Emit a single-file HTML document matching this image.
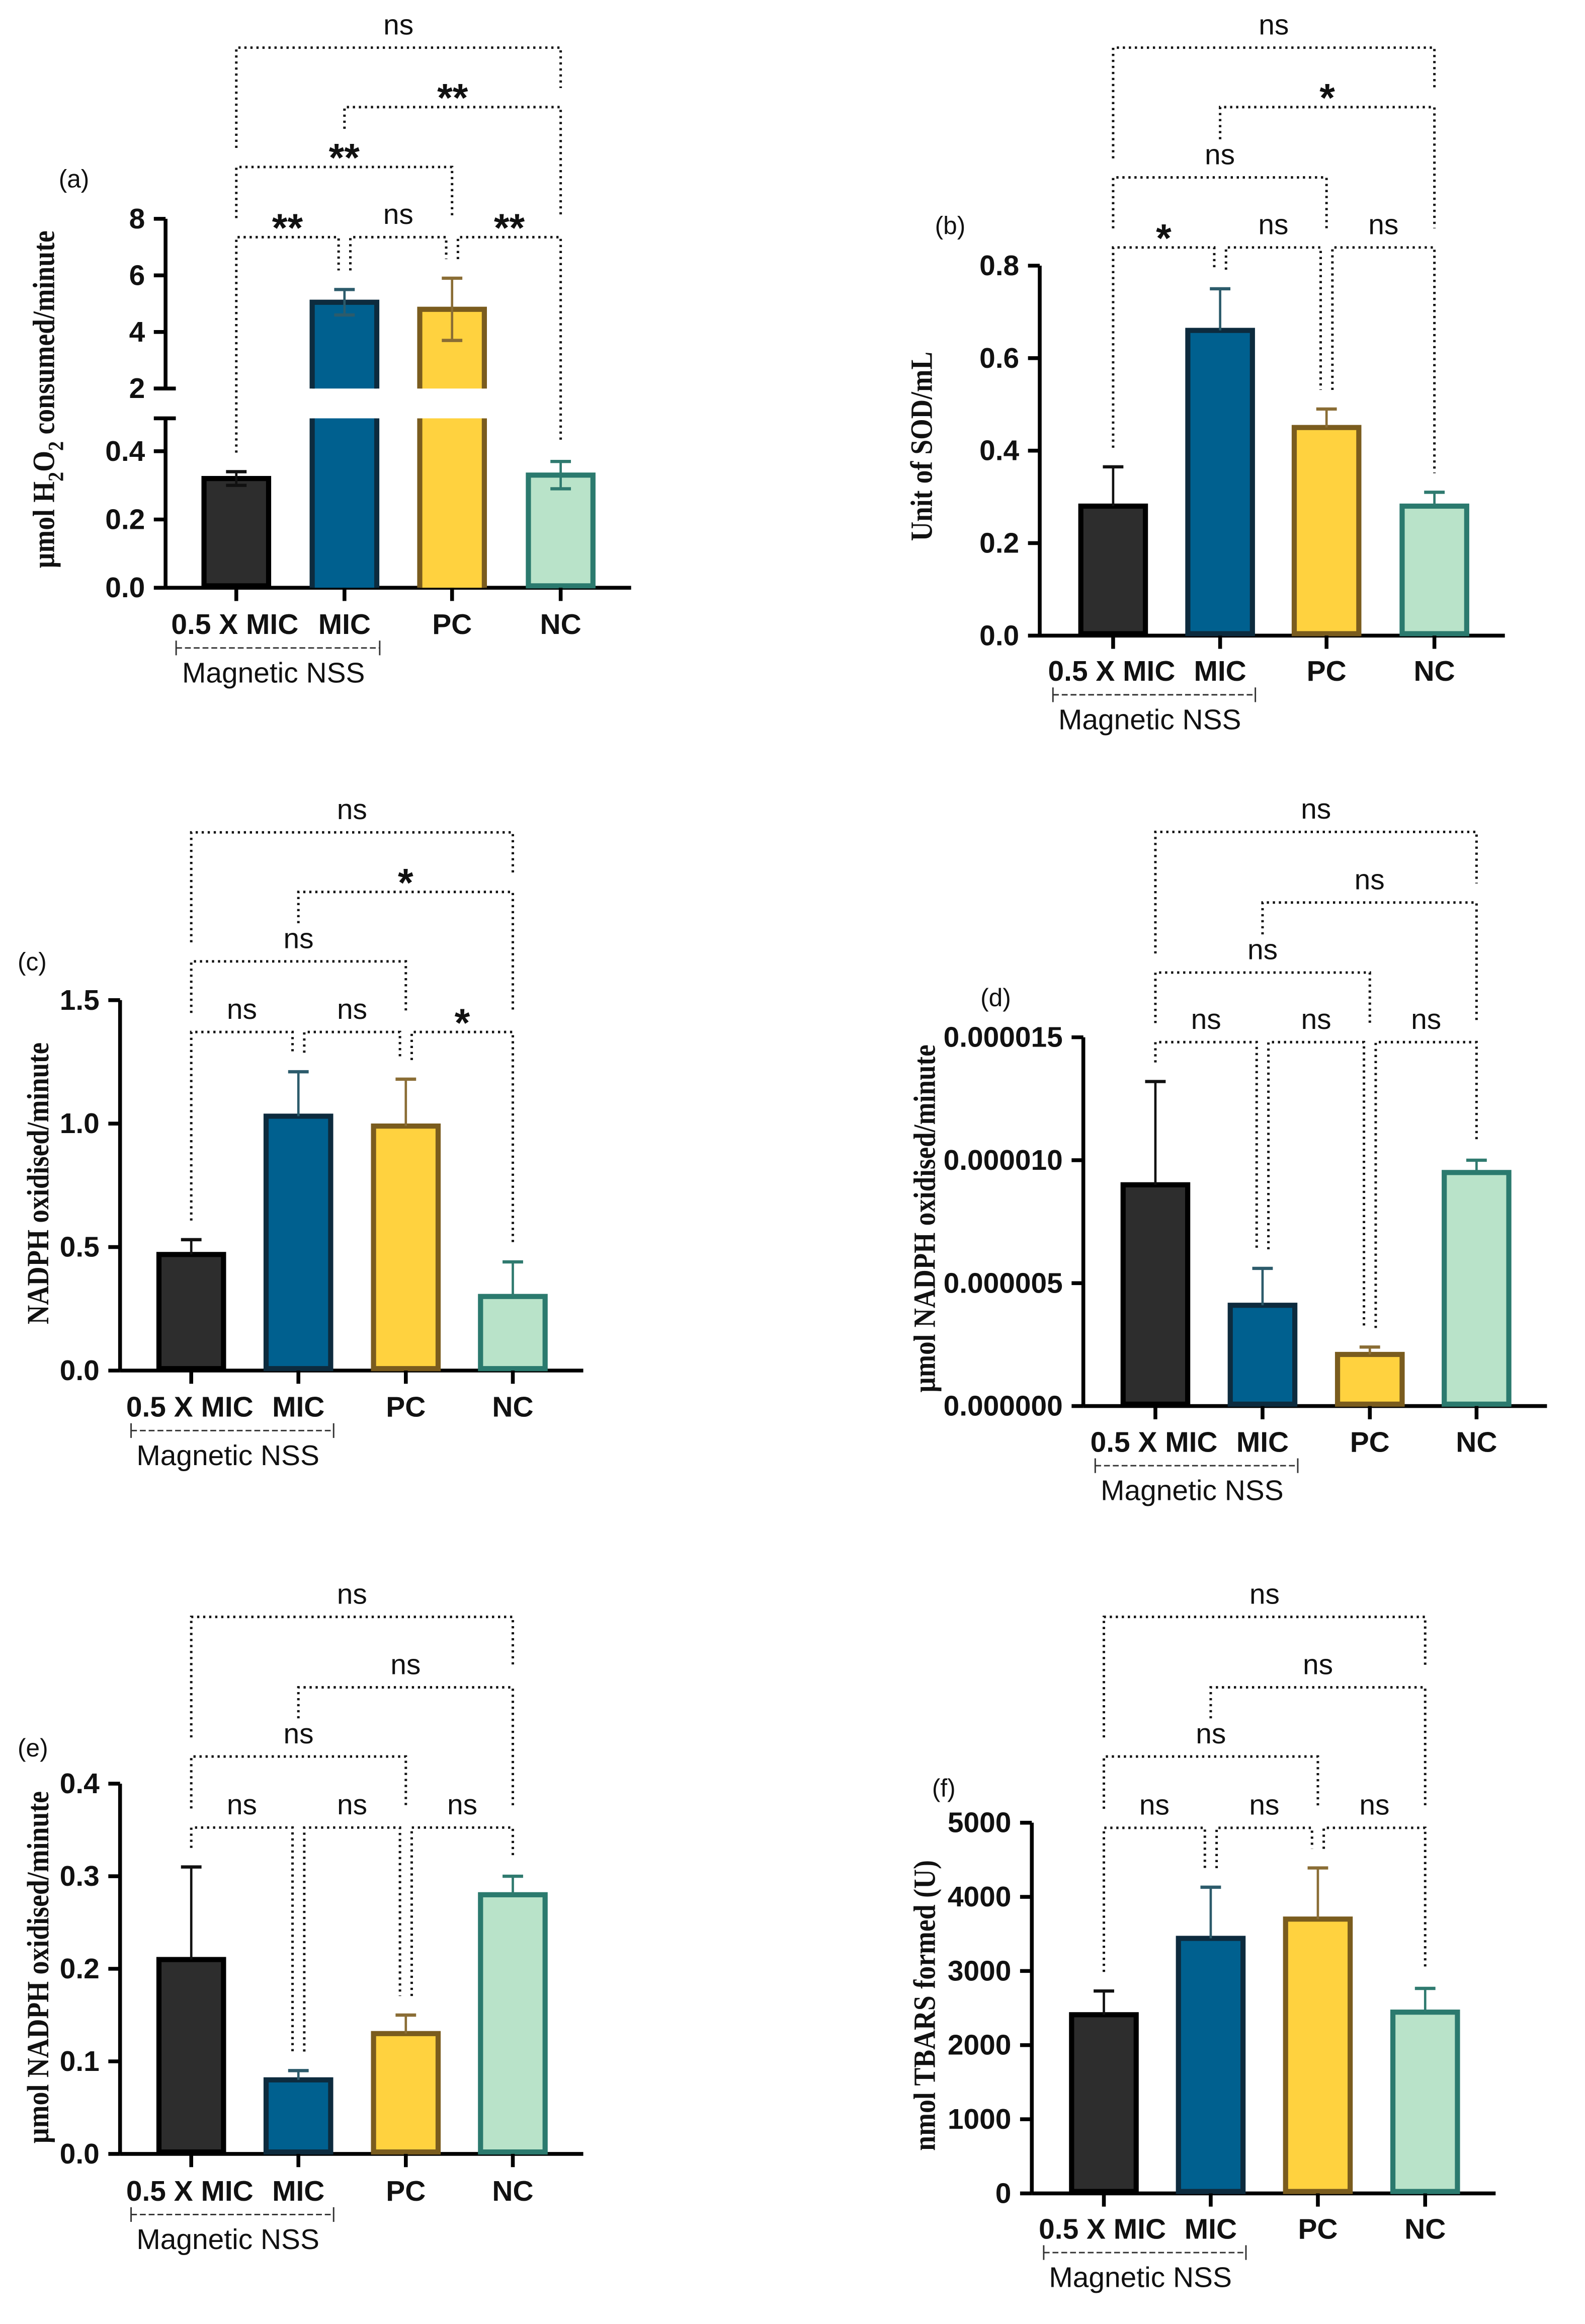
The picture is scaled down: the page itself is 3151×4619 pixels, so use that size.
<!DOCTYPE html>
<html><head><meta charset="utf-8"><title>Antioxidant enzyme assays</title>
<style>
html,body{margin:0;padding:0;background:#fff;}
svg{display:block;}
.tick{font-family:"Liberation Sans",Arial,sans-serif;font-weight:bold;font-size:19.5px;fill:#111;}
.cat{font-family:"Liberation Sans",Arial,sans-serif;font-weight:bold;font-size:19.5px;fill:#111;}
.grp{font-family:"Liberation Sans",Arial,sans-serif;font-size:19.5px;fill:#111;}
.sig{font-family:"Liberation Sans",Arial,sans-serif;font-size:19.5px;fill:#111;}
.star{font-family:"Liberation Sans",Arial,sans-serif;font-weight:bold;font-size:27px;fill:#111;}
.plab{font-family:"Liberation Sans",Arial,sans-serif;font-size:17px;fill:#111;}
.ytitle{font-family:"Liberation Serif","Times New Roman",serif;font-weight:bold;font-size:21px;fill:#111;}
</style></head>
<body>
<svg id="fig" xmlns="http://www.w3.org/2000/svg" width="3151" height="4619" viewBox="0 0 1079.9 1582.9">
<rect x="0" y="0" width="1079.9" height="1582.9" fill="#fff"/>
</svg>
<script>
// ---------- DATA ----------
const categories = ['0.5 X MIC', 'MIC', 'PC', 'NC'];
const groupLabel = 'Magnetic NSS';

const valuesA = [0.32, 5.05, 4.8, 0.33];
const errorsA = [0.02, 0.45, 1.1, 0.04];
const ticksALow = [0.0, 0.2, 0.4];
const ticksAHigh = [2, 4, 6, 8];
const bracketsA = [[0,1,'**',1],[1,2,'ns',1],[2,3,'**',1],[0,2,'**',2],[1,3,'**',3],[0,3,'ns',4]];

const valuesB = [0.28, 0.66, 0.45, 0.28];
const errorsB = [0.085, 0.09, 0.04, 0.03];
const ticksB = [0.0, 0.2, 0.4, 0.6, 0.8];
const bracketsB = [[0,1,'*',1],[1,2,'ns',1],[2,3,'ns',1],[0,2,'ns',2],[1,3,'*',3],[0,3,'ns',4]];

const valuesC = [0.47, 1.03, 0.99, 0.30];
const errorsC = [0.06, 0.18, 0.19, 0.14];
const ticksC = [0.0, 0.5, 1.0, 1.5];
const bracketsC = [[0,1,'ns',1],[1,2,'ns',1],[2,3,'*',1],[0,2,'ns',2],[1,3,'*',3],[0,3,'ns',4]];

const valuesD = [0.0000090, 0.0000041, 0.0000021, 0.0000095];
const errorsD = [0.0000042, 0.0000015, 0.0000003, 0.0000005];
const ticksD = [0.0, 0.000005, 0.000010, 0.000015];
const bracketsD = [[0,1,'ns',1],[1,2,'ns',1],[2,3,'ns',1],[0,2,'ns',2],[1,3,'ns',3],[0,3,'ns',4]];

const valuesE = [0.21, 0.08, 0.13, 0.28];
const errorsE = [0.10, 0.01, 0.02, 0.02];
const ticksE = [0.0, 0.1, 0.2, 0.3, 0.4];
const bracketsE = [[0,1,'ns',1],[1,2,'ns',1],[2,3,'ns',1],[0,2,'ns',2],[1,3,'ns',3],[0,3,'ns',4]];

const valuesF = [2410, 3440, 3700, 2445];
const errorsF = [320, 690, 690, 320];
const ticksF = [0, 1000, 2000, 3000, 4000, 5000];
const bracketsF = [[0,1,'ns',1],[1,2,'ns',1],[2,3,'ns',1],[0,2,'ns',2],[1,3,'ns',3],[0,3,'ns',4]];

// ---------- STYLE ----------
const fills = ['#2d2d2d', '#00608f', '#ffd23f', '#b9e3c9'];
const strokes = ['#000000', '#0d2b3e', '#7a5c1e', '#2b7a6e'];
const errCols = ['#111111', '#2c5b6b', '#8a6d35', '#2f7a6f'];
const NS = 'http://www.w3.org/2000/svg';
const svg = document.getElementById('fig');

function mk(tag, attrs, parent) {
  const e = document.createElementNS(NS, tag);
  for (const k in attrs) e.setAttribute(k, attrs[k]);
  (parent || svg).appendChild(e);
  return e;
}

function linScale(y0, yTop, max) { return v => y0 - v / max * (y0 - yTop); }

function drawPanel(p, vals, errs, brackets) {
  const g = mk('g', {});
  
  
  const yOf = p.scale;
  const c = p.centers;
  const pl = mk('text', {x: p.lab[0], y: p.lab[1], class: 'plab', 'dominant-baseline': 'central'}, g);
  pl.textContent = '(' + p.id + ')';
  
  
  const yt = mk('text', {class: 'ytitle', 'text-anchor': 'middle', 'dominant-baseline': 'central',
    transform: 'translate(' + p.title[0] + ',' + p.title[1] + ') rotate(-90)',
    textLength: p.title[2], lengthAdjust: 'spacingAndGlyphs'}, g);
  
  
  if (p.titleParts) {
    p.titleParts.forEach(tp => {
      const ts = mk('tspan', tp.sub ? {'baseline-shift': 'sub', 'font-size': '15px'} : {}, yt);
      ts.textContent = tp.t;
    });
  } else yt.textContent = p.titleText;
  const ax = p.ax;
  const axis = mk('g', {stroke: '#000', 'stroke-width': 2.6, fill: 'none'}, g);
  
  
  if (p.broken) {
    mk('line', {x1: ax, y1: p.y0, x2: ax, y2: p.lowTop}, axis);
    mk('line', {x1: ax - 8, y1: p.lowTop, x2: ax + 7, y2: p.lowTop}, axis);
    mk('line', {x1: ax, y1: p.highBot, x2: ax, y2: p.yTop}, axis);
    mk('line', {x1: ax - 8, y1: p.highBot, x2: ax + 7, y2: p.highBot}, axis);
  } else {
    mk('line', {x1: ax, y1: p.y0, x2: ax, y2: p.yTop}, axis);
  }
  p.ticks.forEach(t => {
    const y = yOf(t);
    mk('line', {x1: ax - 8, y1: y, x2: ax, y2: y}, axis);
    const tx = mk('text', {x: ax - 14, y: y, class: 'tick', 'text-anchor': 'end', 'dominant-baseline': 'central'}, g);
    tx.textContent = p.fmt(t);
    
    
  });
  const xa = mk('line', {x1: ax, y1: p.y0, x2: c[3] + 48, y2: p.y0, stroke: '#000', 'stroke-width': 2.6}, g);
  
  
  vals.forEach((v, i) => {
    const bw = 44, x = c[i] - bw / 2;
    const bg = mk('g', {}, g);
    
    
    const top = yOf(v);
    if (p.broken && v > p.breakLow) {
      mk('rect', {x: x, y: p.lowTop, width: bw, height: p.y0 - p.lowTop, fill: fills[i]}, bg);
      mk('path', {d: 'M' + x + ' ' + p.y0 + ' V' + p.lowTop + ' M' + (x + bw) + ' ' + p.y0 + ' V' + p.lowTop, stroke: strokes[i], 'stroke-width': 3.5, fill: 'none'}, bg);
      mk('rect', {x: x, y: top, width: bw, height: p.highBot - top, fill: fills[i]}, bg);
      mk('path', {d: 'M' + x + ' ' + p.highBot + ' V' + top + ' H' + (x + bw) + ' V' + p.highBot, stroke: strokes[i], 'stroke-width': 3.5, fill: 'none'}, bg);
    } else {
      mk('rect', {x: x, y: top, width: bw, height: p.y0 - top - 1.3, fill: fills[i], stroke: strokes[i], 'stroke-width': 3.5}, bg);
    }
    const eTop = yOf(v + errs[i]);
    const eg = mk('g', {stroke: errCols[i], 'stroke-width': 1.6}, g);
    
    
    const eBot = p.bothErr ? yOf(v - errs[i]) : top;
    mk('line', {x1: c[i], y1: eTop, x2: c[i], y2: eBot}, eg);
    mk('line', {x1: c[i] - 7, y1: eTop, x2: c[i] + 7, y2: eTop, 'stroke-width': 2.2}, eg);
    if (p.bothErr) mk('line', {x1: c[i] - 7, y1: eBot, x2: c[i] + 7, y2: eBot, 'stroke-width': 2.2}, eg);
    mk('line', {x1: c[i], y1: p.y0, x2: c[i], y2: p.y0 + 9, stroke: '#000', 'stroke-width': 2.6}, g);
    const cl = mk('text', {x: c[i] + (i === 0 ? -1 : 0), y: p.labY, class: 'cat', 'text-anchor': 'middle', 'dominant-baseline': 'central'}, g);
    cl.textContent = categories[i];
    
    
  });
  const gx1 = c[0] - 41, gx2 = c[1] + 24, gy = p.labY + 16;
  const gb = mk('g', {stroke: '#333', 'stroke-width': 1}, g);
  
  
  mk('line', {x1: gx1, y1: gy, x2: gx2, y2: gy, 'stroke-dasharray': '4 2'}, gb);
  mk('line', {x1: gx1, y1: gy - 5, x2: gx1, y2: gy + 5}, gb);
  mk('line', {x1: gx2, y1: gy - 5, x2: gx2, y2: gy + 5}, gb);
  const gt = mk('text', {x: (gx1 + gx2) / 2 - 3, y: gy + 17, class: 'grp', 'text-anchor': 'middle', 'dominant-baseline': 'central'}, g);
  gt.textContent = groupLabel;
  
  
  brackets.forEach(b => {
    const [i, j, lab, lev] = b;
    const y = p.levels[lev - 1];
    const sameL = brackets.some(o => o !== b && o[3] === lev && o[1] === i);
    const sameR = brackets.some(o => o !== b && o[3] === lev && o[0] === j);
    const xi = c[i] + (sameL ? 4 : 0), xj = c[j] - (sameR ? 4 : 0);
    function endFor(k) {
      let obs = null;
      brackets.forEach(o => {
        if (o[3] < lev && o[0] <= k && k <= o[1]) {
          let oy = p.levels[o[3] - 1];
          const mid = (c[o[0]] + c[o[1]]) / 2;
          if (Math.abs(mid - c[k]) < 15) oy -= 13;
          if (obs === null || oy < obs) obs = oy;
        }
      });
      if (obs === null) obs = yOf(vals[k] + errs[k]);
      return obs - 13;
    }
    const bg = mk('g', {}, g);
    
    
    mk('path', {d: 'M' + xi + ' ' + endFor(i) + ' V' + y + ' H' + xj + ' V' + endFor(j), fill: 'none', stroke: '#111', 'stroke-width': 1.7, 'stroke-dasharray': '1.5 2.6'}, bg);
    const isStar = lab.indexOf('*') >= 0;
    const t = mk('text', {x: (xi + xj) / 2, y: isStar ? y + 3 : y - 9, class: isStar ? 'star' : 'sig', 'text-anchor': 'middle'}, bg);
    t.textContent = lab;
  });
}

const fmt1 = v => v.toFixed(1);
const colsL = [130.3, 203.3, 276.5, 349.4];

(function(){
  const y0 = 400.3, pxLow = 232.5, lowTop = 284.9, highBot = 264.6, pxHigh = 19.27;
  const scaleA = v => v <= 0.5 ? y0 - v * pxLow : highBot - (v - 2) * pxHigh;
  drawPanel({id: 'a', ax: 112.8, y0: y0, yTop: 149, scale: scaleA, broken: true, breakLow: 0.5,
    lowTop: lowTop, highBot: highBot, bothErr: true,
    ticks: ticksALow.concat(ticksAHigh), fmt: v => v < 1 ? v.toFixed(1) : String(v),
    centers: [161, 234.7, 308, 382], labY: 425.3, levels: [161.5, 113.7, 72.9, 32.4],
    lab: [40, 121.8], title: [30, 272, 230],
    titleParts: [{t: 'µmol H'}, {t: '2', sub: true}, {t: 'O'}, {t: '2', sub: true}, {t: ' consumed/minute'}]
  }, valuesA, errorsA, bracketsA);
})();

drawPanel({id: 'b', ax: 708.4, y0: 432.9, yTop: 180.9, scale: linScale(432.9, 180.9, 0.8),
  ticks: ticksB, fmt: fmt1, centers: [758.4, 831.3, 903.8, 977.3], labY: 457.2,
  levels: [168.5, 120.8, 72.9, 32.4], lab: [637, 153.7], title: [628, 304, 129], titleText: 'Unit of SOD/mL'
}, valuesB, errorsB, bracketsB);

drawPanel({id: 'c', ax: 81.8, y0: 933.5, yTop: 681.2, scale: linScale(933.5, 681.2, 1.5),
  ticks: ticksC, fmt: fmt1, centers: colsL, labY: 958.4,
  levels: [702.9, 654.8, 607.5, 566.9], lab: [12, 655], title: [26, 806, 192], titleText: 'NADPH oxidised/minute'
}, valuesC, errorsC, bracketsC);

drawPanel({id: 'd', ax: 738.1, y0: 957.7, yTop: 706.5, scale: linScale(957.7, 706.5, 0.000015),
  ticks: ticksD, fmt: v => v.toFixed(6), centers: [787.2, 860.2, 933.3, 1006], labY: 982.3,
  levels: [709.8, 662.4, 614.7, 566.6], lab: [668, 679.6], title: [630, 830, 237], titleText: 'µmol NADPH oxidised/minute'
}, valuesD, errorsD, bracketsD);

drawPanel({id: 'e', ax: 81.8, y0: 1467.1, yTop: 1214.9, scale: linScale(1467.1, 1214.9, 0.4),
  ticks: ticksE, fmt: fmt1, centers: colsL, labY: 1492.4,
  levels: [1244.8, 1196.4, 1149.3, 1101.3], lab: [12, 1190.6], title: [26, 1340, 240], titleText: 'µmol NADPH oxidised/minute'
}, valuesE, errorsE, bracketsE);

drawPanel({id: 'f', ax: 703, y0: 1494, yTop: 1241.5, scale: linScale(1494, 1241.5, 5000),
  ticks: ticksF, fmt: v => String(v), centers: [752.1, 824.9, 897.9, 971], labY: 1518.3,
  levels: [1245, 1196.4, 1149.3, 1101.3], lab: [635, 1218], title: [630, 1366, 198], titleText: 'nmol TBARS formed (U)'
}, valuesF, errorsF, bracketsF);
</script>
</body></html>
